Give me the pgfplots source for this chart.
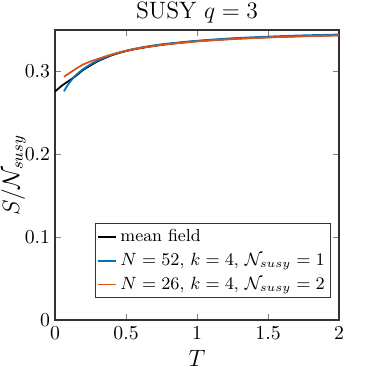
\documentclass[border=0pt]{standalone}
\usepackage{pgfplots}
\pgfplotsset{compat=1.18}
\usepackage{amsmath}

\definecolor{mblue}{rgb}{0,0.447,0.741}
\definecolor{morange}{rgb}{0.850,0.325,0.098}

\begin{document}
\begin{tikzpicture}
\useasboundingbox (-27.9pt,-27.4pt) rectangle (161.7pt,162.2pt);
\begin{axis}[
    scale only axis,
    width=144pt, height=147pt,
    xmin=0, xmax=2, ymin=0, ymax=0.35,
    xtick={0,0.5,1,1.5,2},
    ytick={0,0.1,0.2,0.3},
    tick align=inside,
    major tick length=3pt,
    axis line style={black!80, line width=0.6pt},
    yticklabel style={xshift=1pt},
    xlabel={$T$},
    ylabel={$S/\mathcal{N}_{susy}$},
    title={SUSY $q=3$},
    title style={font=\large, at={(axis description cs:0.5,1)}, anchor=base},
    label style={font=\large},
    xlabel style={at={(axis description cs:0.5,0)}, anchor=base, yshift=-23.5pt},
    ylabel style={at={(axis description cs:0,0.5)}, anchor=center, inner sep=0pt, yshift=21pt},
    legend cell align=left,
    legend style={at={(0.971,0.075)}, anchor=south east,
        draw=black!80, line width=0.6pt, inner sep=0.8pt,
        row sep=0.3pt, font=\fontsize{8.8}{10.6}\selectfont},
    legend image code/.code={\draw[#1] (0pt,0pt) -- (9pt,0pt);},
]
\addplot[black, line width=0.9pt, smooth] table {
0 0.2757
0.025 0.2795
0.05 0.2830
0.075 0.2860
0.1 0.2888
0.15 0.2950
0.2 0.3020
0.25 0.3072
0.3 0.3122
0.4 0.3195
0.5 0.3245
0.6 0.3280
0.7 0.3308
0.8 0.3330
1.0 0.3365
1.25 0.3393
1.5 0.3412
1.75 0.3426
2.0 0.3437
};
\addlegendentry{mean field}
\addplot[mblue, line width=0.9pt, smooth] table {
0.063 0.2760
0.08 0.2810
0.1 0.2860
0.125 0.2915
0.15 0.2960
0.2 0.3030
0.25 0.3085
0.3 0.3130
0.4 0.3200
0.5 0.3250
0.6 0.3287
0.7 0.3315
0.8 0.3337
1.0 0.3370
1.25 0.3400
1.5 0.3420
1.75 0.3435
2.0 0.3445
};
\addlegendentry{$N=52$, $k=4$, $\mathcal{N}_{susy}=1$}
\addplot[morange, line width=0.9pt, smooth] table {
0.063 0.2935
0.08 0.2955
0.1 0.2978
0.15 0.3035
0.2 0.3085
0.25 0.3120
0.3 0.3150
0.4 0.3205
0.5 0.3248
0.6 0.3282
0.7 0.3308
0.8 0.3330
1.0 0.3362
1.25 0.3390
1.5 0.3410
1.75 0.3424
2.0 0.3435
};
\addlegendentry{$N=26$, $k=4$, $\mathcal{N}_{susy}=2$}
\end{axis}
\end{tikzpicture}
\end{document}
